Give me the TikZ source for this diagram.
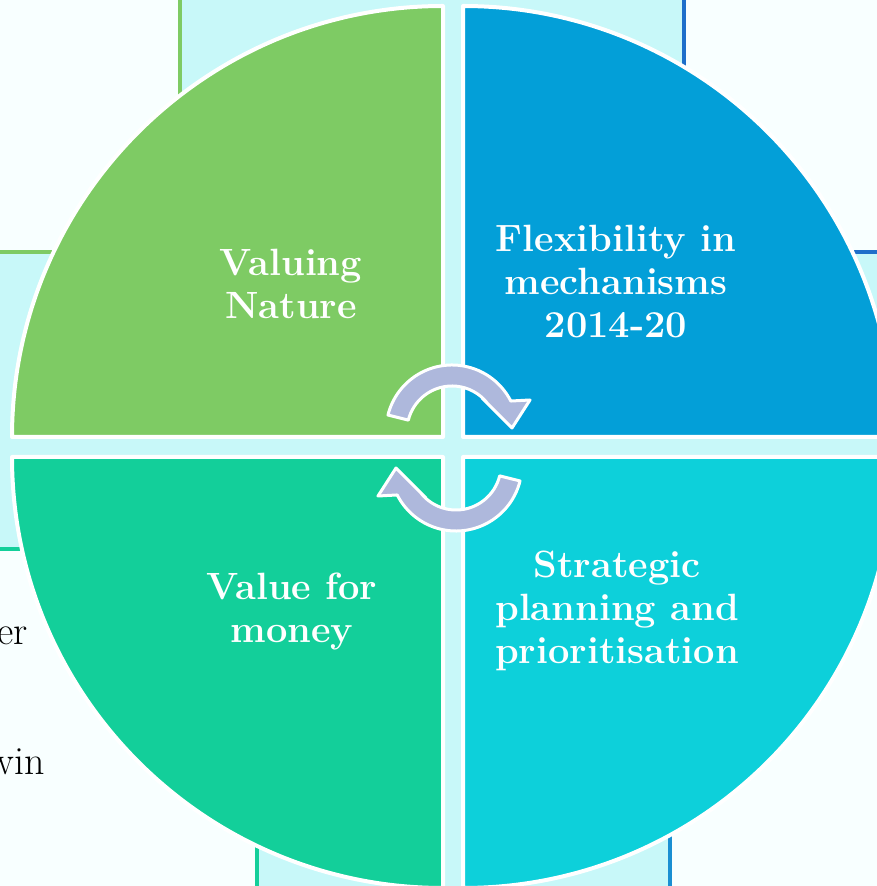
\documentclass[tikz,border=0pt]{standalone}
\usepackage{fontspec}
\definecolor{paper}{HTML}{F8FFFF}
\definecolor{band}{HTML}{C8F8F9}
\definecolor{natgreen}{HTML}{7ECB64}
\definecolor{mechblue}{HTML}{039FD8}
\definecolor{moneygreen}{HTML}{13CF9A}
\definecolor{plancyan}{HTML}{0DD0DA}
\definecolor{edgeblue}{HTML}{1E6FCA}
\definecolor{edgeblue2}{HTML}{1A8FD2}
\definecolor{lavender}{HTML}{AEB8DC}
\tikzset{quad/.style={draw=white,line width=4pt},
	qtext/.style={text=white,font=\fontsize{38}{43}\selectfont\bfseries,align=center,inner sep=0pt},
	side/.style={font=\fontsize{40}{46}\selectfont,inner sep=0pt,anchor=base east},
	rim/.style={line width=4pt},
	cyc/.style={fill=lavender,draw=white,line width=3pt}}
\begin{document}
\begin{tikzpicture}[x=1pt,y=1pt,line join=round]
	\def\R{431}
	\useasboundingbox (0,0) rectangle (877,886); \clip (0,0) rectangle (877,886);
	\fill[paper] (0,0) rectangle (877,886);
	\fill[band] (180,886)--(453,886)--(453,439)--(0,439)--(0,634)--(180,634)--cycle (453,886)--(684,886)--(684,634)--(877,634)--(877,439)--(453,439)--cycle;
	\fill[band] (0,439)--(453,439)--(453,0)--(257,0)--(257,337)--(0,337)--cycle (453,439)--(877,439)--(877,337)--(670,337)--(670,0)--(453,0)--cycle;
	\draw[rim,natgreen] (180,886)--(180,634)--(0,634);
	\draw[rim,edgeblue] (684,886)--(684,634)--(877,634);
	\draw[rim,moneygreen] (0,337)--(257,337)--(257,0);
	\draw[rim,edgeblue2] (877,337)--(670,337)--(670,0);
	\node[side] (er) at (28,241) {er};
	\node[side] (win) at (45,111) {win};
	\filldraw[quad,fill=natgreen] (443,449)--++(-\R,0) arc(180:90:\R)--cycle;
	\filldraw[quad,fill=mechblue] (463,449)--++(0,\R) arc(90:0:\R)--cycle;
	\filldraw[quad,fill=moneygreen] (443,429)--++(0,-\R) arc(270:180:\R)--cycle;
	\filldraw[quad,fill=plancyan] (463,429)--++(\R,0) arc(0:-90:\R)--cycle;
	\node[qtext] (nature) at (291,602) {Valuing\\Nature};
	\node[qtext] (mech) at (616,604) {Flexibility in\\mechanisms\\2014-20};
	\node[qtext] (money) at (292,274) {Value for\\money};
	\node[qtext] (plan) at (617,275) {Strategic\\planning and\\prioritisation};
	\filldraw[cyc] ([shift={(166:66)}]452,455) arc(166:27:66)--(530,486)--(512,458)--(482,488)--([shift={(39:45)}]452,455) arc(39:166:45)--cycle;
	\filldraw[cyc,rotate around={180:(454,438)}] ([shift={(166:66)}]452,455) arc(166:27:66)--(530,486)--(512,458)--(482,488)--([shift={(39:45)}]452,455) arc(39:166:45)--cycle;
\end{tikzpicture}
\end{document}
